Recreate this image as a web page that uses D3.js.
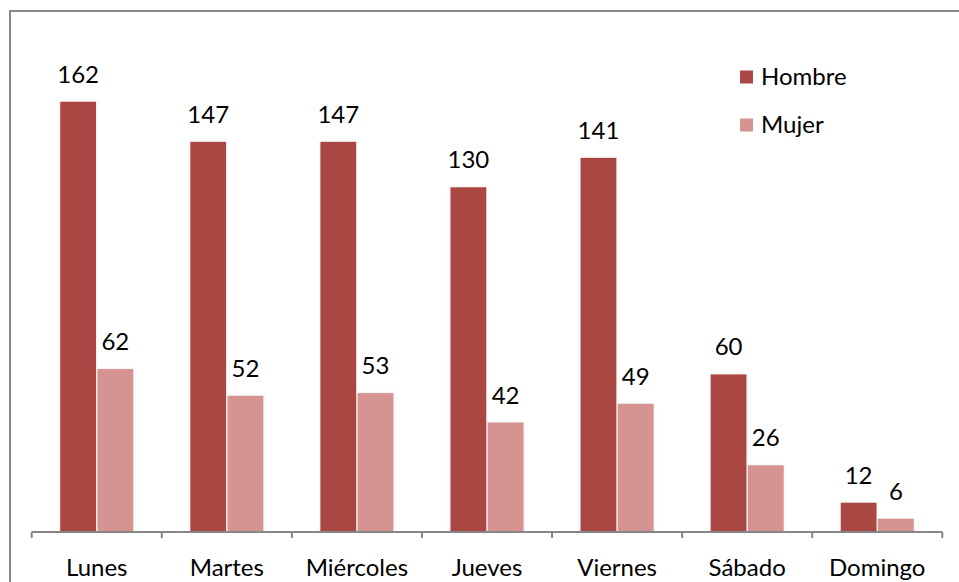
<!DOCTYPE html>
<html><head><meta charset="utf-8">
<script src="https://cdn.jsdelivr.net/npm/d3@7"></script>
<style>html,body{margin:0;padding:0;background:#fff;}svg{display:block;}</style>
</head><body>
<svg id="chart" width="959" height="582"></svg>
<script>
const categories = ["Lunes","Martes","Miércoles","Jueves","Viernes","Sábado","Domingo"];
const seriesNames = ["Hombre","Mujer"];
const hombre = [162,147,147,130,141,60,12];
const mujer = [62,52,53,42,49,26,6];
const colors = ["#AA4643","#D59391"];

const svg = d3.select("#chart");
const font = "Lato, 'Open Sans', sans-serif";
const W = 959, H = 582;
const axisY = 532;

// outer border
svg.append("path").attr("d", `M10,${H+5} L10,11 L${W+5},11`).attr("fill","none").attr("stroke","#878787").attr("stroke-width",2);

const defs = svg.append("defs");
const f = defs.append("filter").attr("id","sh").attr("x","-20%").attr("y","-5%").attr("width","140%").attr("height","110%");
f.append("feDropShadow").attr("dx",0).attr("dy",0).attr("stdDeviation",1.6).attr("flood-color","#000").attr("flood-opacity",0.12);

const x = d3.scaleBand().domain(categories).range([31.7, 942.3]).padding(0);
const xs = d3.scaleBand().domain(seriesNames).range([-36.5, 36.5]).paddingInner(0.04);
const y = d3.scaleLinear().domain([0,180]).range([534.8, 534.8 - 180*2.673]);

const data = [hombre, mujer];
seriesNames.forEach((s, si) => {
  const g = svg.append("g");
  g.selectAll("rect").data(categories).join("rect")
    .attr("x", c => x(c) + x.bandwidth()/2 + xs(s))
    .attr("y", (c,i) => y(data[si][i]))
    .attr("width", xs.bandwidth())
    .attr("height", (c,i) => axisY - y(data[si][i]))
    .attr("fill", colors[si])
    .attr("filter","url(#sh)");
  g.selectAll("text").data(categories).join("text")
    .attr("x", c => x(c) + x.bandwidth()/2 + xs(s) + xs.bandwidth()/2)
    .attr("y", (c,i) => y(data[si][i]) - 19)
    .attr("text-anchor","middle")
    .attr("font-family", font).attr("font-size", 24).attr("fill","#000")
    .text((c,i) => data[si][i]);
});

// x axis
const axisG = svg.append("g");
axisG.append("line").attr("x1",31.7).attr("x2",942.3).attr("y1",axisY).attr("y2",axisY).attr("stroke","#868686").attr("stroke-width",2);
const tickPos = categories.map(c => x(c)).concat([x.range()[1]]);
axisG.selectAll("line.t").data(tickPos).join("line").attr("class","t")
  .attr("x1", d => d).attr("x2", d => d).attr("y1", axisY).attr("y2", axisY+6)
  .attr("stroke","#868686").attr("stroke-width",2);
axisG.selectAll("text").data(categories).join("text")
  .attr("x", c => x(c) + x.bandwidth()/2).attr("y", 576)
  .attr("text-anchor","middle").attr("font-family", font).attr("font-size",24).attr("fill","#000")
  .text(c => c);

// legend
const leg = svg.append("g");
seriesNames.forEach((s, i) => {
  leg.append("rect").attr("x",740).attr("y",70.5 + i*48).attr("width",13).attr("height",13).attr("fill",colors[i]);
  leg.append("text").attr("x",761).attr("y",85 + i*48).attr("font-family",font).attr("font-size",24).attr("fill","#000").text(s);
});
</script>
</body></html>
